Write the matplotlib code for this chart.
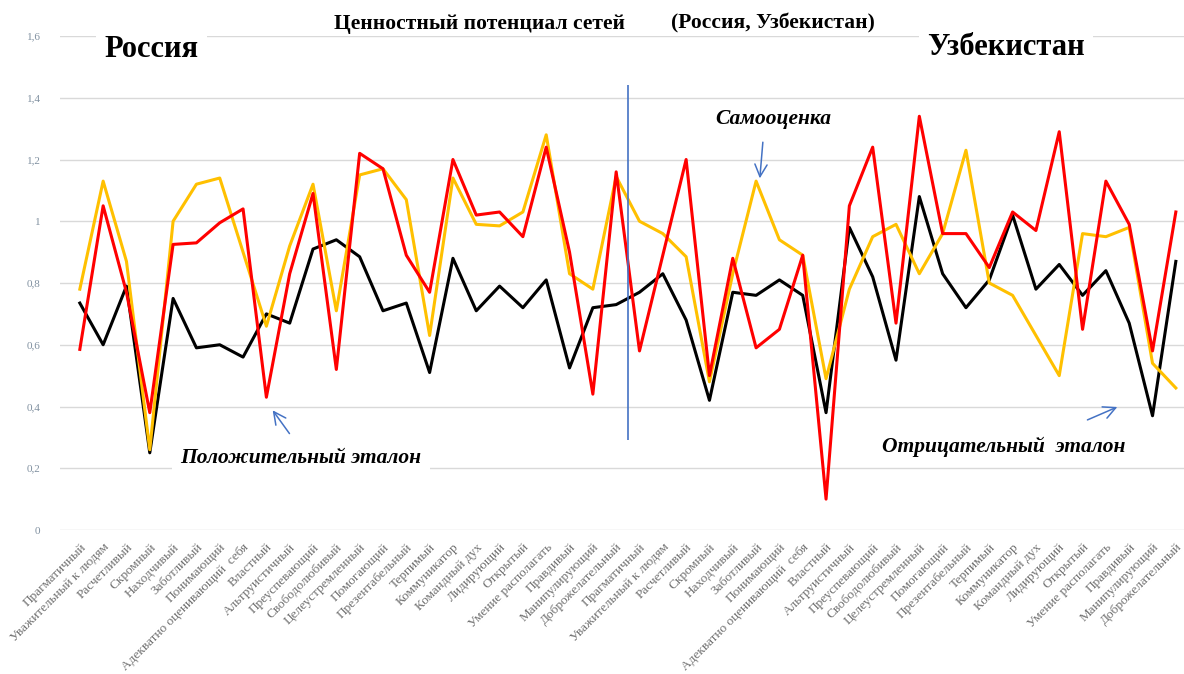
import numpy as np
import matplotlib.pyplot as plt

# trait names, same list for both countries
traits = [
    "Прагматичный", "Уважительный к людям", "Расчетливый", "Скромный",
    "Находчивый", "Заботливый", "Понимающий", "Адекватно оценивающий  себя",
    "Властный", "Альтруистичный", "Преуспевающий", "Свободолюбивый",
    "Целеустремленный", "Помогающий", "Презентабельный", "Терпимый",
    "Коммуникатор", "Командный дух", "Лидирующий", "Открытый",
    "Умение располагать", "Правдивый", "Манипулирующий", "Доброжелательный",
]
categories = traits + traits

# negative standard (black)
neg_ru = [0.735, 0.60, 0.79, 0.25, 0.75, 0.59, 0.60, 0.56, 0.70, 0.67, 0.91, 0.94,
          0.885, 0.71, 0.735, 0.51, 0.88, 0.71, 0.79, 0.72, 0.81, 0.525, 0.72, 0.73]
neg_uz = [0.77, 0.83, 0.68, 0.42, 0.77, 0.76, 0.81, 0.76, 0.38, 0.98, 0.82, 0.55,
          1.08, 0.83, 0.72, 0.81, 1.02, 0.78, 0.86, 0.76, 0.84, 0.67, 0.37, 0.87]

# positive standard (red)
pos_ru = [0.585, 1.05, 0.77, 0.38, 0.925, 0.93, 0.995, 1.04, 0.43, 0.83, 1.09, 0.52,
          1.22, 1.17, 0.89, 0.77, 1.20, 1.02, 1.03, 0.95, 1.24, 0.90, 0.44, 1.16]
pos_uz = [0.58, 0.89, 1.20, 0.50, 0.88, 0.59, 0.65, 0.89, 0.10, 1.05, 1.24, 0.67,
          1.34, 0.96, 0.96, 0.85, 1.03, 0.97, 1.29, 0.65, 1.13, 0.99, 0.58, 1.03]

# self-rating (yellow)
self_ru = [0.78, 1.13, 0.87, 0.26, 1.00, 1.12, 1.14, 0.90, 0.66, 0.92, 1.12, 0.71,
           1.15, 1.17, 1.07, 0.63, 1.14, 0.99, 0.985, 1.03, 1.28, 0.83, 0.78, 1.145]
self_uz = [1.00, 0.96, 0.885, 0.48, 0.83, 1.13, 0.94, 0.89, 0.49, 0.78, 0.95, 0.99,
           0.83, 0.96, 1.23, 0.80, 0.76, 0.63, 0.50, 0.96, 0.95, 0.98, 0.54, 0.46]

yticks = [0, 0.2, 0.4, 0.6, 0.8, 1.0, 1.2, 1.4, 1.6]
ytick_labels = ["0", "0,2", "0,4", "0,6", "0,8", "1", "1,2", "1,4", "1,6"]

serif = "Liberation Serif"
plt.rcParams['font.family'] = [serif, 'DejaVu Serif']

fig = plt.figure(figsize=(11.84, 6.74), dpi=100)
ax = fig.add_axes([60 / 1184, 144 / 674, 1 - 60 / 1184, 494 / 674])

x = np.arange(len(categories))
ax.plot(x, neg_ru + neg_uz, color='black', lw=2.2, zorder=3)
ax.plot(x, self_ru + self_uz, color='#FFC000', lw=2.2, zorder=4)
ax.plot(x, pos_ru + pos_uz, color='#FF0000', lw=2.2, zorder=5)

# divider between the two countries
ax.vlines(len(traits) - 0.5, 0.29, 1.44, color='#4472C4', lw=1.2, zorder=6)

ax.set_xlim(-0.85, 47.35)
ax.set_ylim(0, 1.6)
ax.set_yticks(yticks)
ax.set_yticklabels(ytick_labels, fontsize=8, color='#8090a0')
ax.set_xticks(x)
ax.set_xticklabels(categories, rotation=45, ha='right', va='top',
                   rotation_mode='anchor', fontsize=9.5, color='#707070')
ax.tick_params(length=0)
ax.tick_params(axis='y', pad=14)
ax.tick_params(axis='x', pad=8)
ax.grid(axis='y', color='#d9d9d9', lw=1)
ax.set_axisbelow(True)
for s in ax.spines.values():
    s.set_visible(False)

# titles and country names
fig.text(0.405, 0.965, "Ценностный потенциал сетей", ha='center', va='center',
         fontsize=15.5, fontweight='bold')
fig.text(0.653, 0.965, "(Россия, Узбекистан)", ha='center', va='center',
         fontsize=15.5, fontweight='bold')

box = dict(facecolor='white', edgecolor='none', pad=6)
ax.text(3.08, 1.556, "Россия", ha='center', va='center', fontsize=22,
        fontweight='bold', bbox=box, zorder=7)
ax.text(39.7, 1.562, "Узбекистан", ha='center', va='center', fontsize=22,
        fontweight='bold', bbox=box, zorder=7)

# series labels with arrows
arrow = dict(arrowstyle='->', color='#4472C4', lw=1.1, mutation_scale=22)
lab = dict(ha='center', va='center', fontsize=15.5, fontweight='bold', style='italic',
           zorder=7)
ax.text(29.74, 1.33, "Самооценка", **lab)
ax.annotate("", xy=(29.15, 1.13), xytext=(29.3, 1.265), arrowprops=arrow)
ax.text(9.49, 0.233, "Положительный эталон", bbox=box, **lab)
ax.annotate("", xy=(8.2, 0.395), xytext=(9.06, 0.305), arrowprops=arrow)
ax.text(39.6, 0.269, "Отрицательный  эталон", bbox=box, **lab)
ax.annotate("", xy=(44.6, 0.402), xytext=(43.1, 0.353), arrowprops=arrow)

fig.savefig("out.png", dpi=100)
